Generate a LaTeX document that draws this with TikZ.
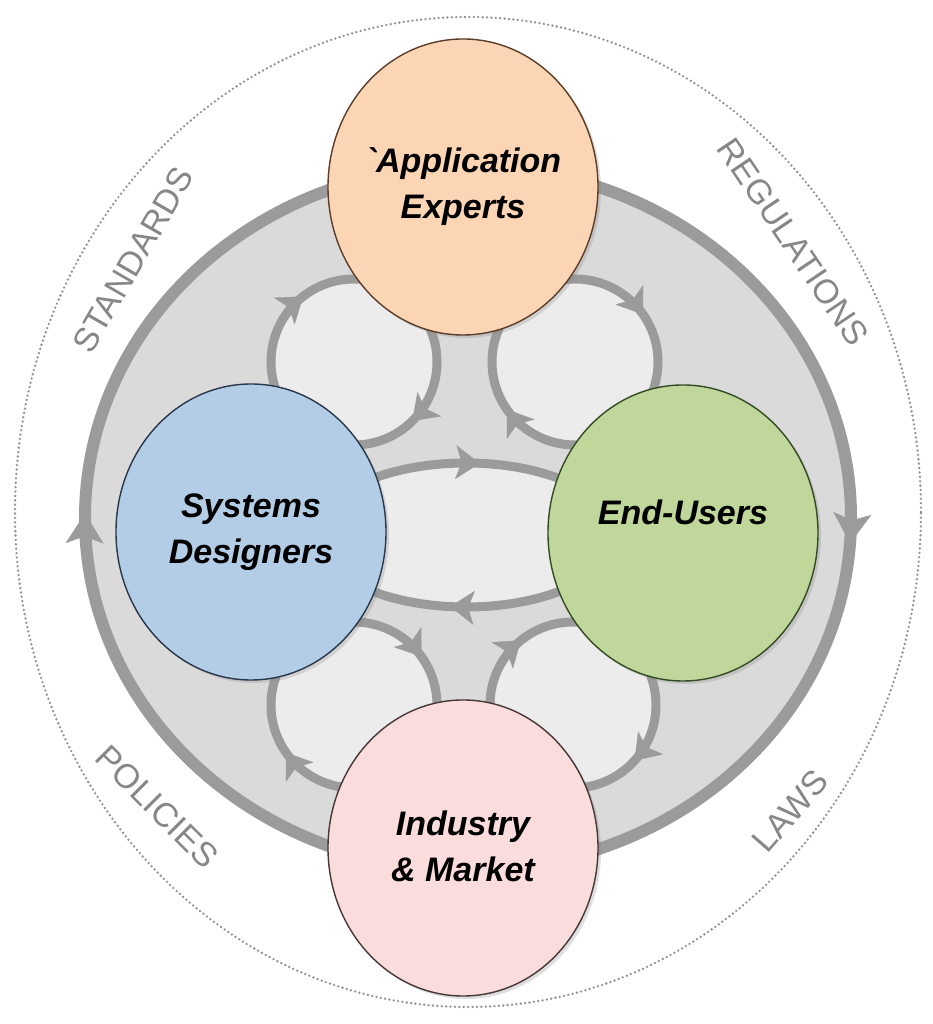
\documentclass[tikz,border=0pt]{standalone}
\usepackage{fontspec}
\setmainfont{Liberation Sans}
\newfontfamily\actorfont{Liberation Sans}
\usetikzlibrary{shapes.geometric,arrows.meta,decorations.markings,shadows}
\definecolor{linegray}{RGB}{155,155,155}
\definecolor{diskgray}{RGB}{218,218,218}
\definecolor{lobegray}{RGB}{236,236,236}
\definecolor{dotgray}{RGB}{145,145,145}
\definecolor{txtgray}{RGB}{135,135,135}
\definecolor{appfill}{RGB}{252,213,180}
\definecolor{appline}{RGB}{90,60,40}
\definecolor{sysfill}{RGB}{180,205,230}
\definecolor{sysline}{RGB}{40,55,75}
\definecolor{eufill}{RGB}{192,215,155}
\definecolor{euline}{RGB}{50,75,35}
\definecolor{indfill}{RGB}{250,220,221}
\definecolor{indline}{RGB}{70,55,55}
\begin{document}
\begin{tikzpicture}[x=1pt,y=1pt,
  flow/.style={color=linegray, line width=9pt},
  ringline/.style={color=linegray, line width=12pt},
  lobetips/.style 2 args={postaction={decorate},
    decoration={markings,
      mark=at position #1 with {\arrow{Stealth[length=24pt,width=34pt,inset=6pt,line width=0.4pt]}},
      mark=at position #2 with {\arrow{Stealth[length=24pt,width=34pt,inset=6pt,line width=0.4pt]}}}},
  ringtips/.style 2 args={postaction={decorate},
    decoration={markings,
      mark=at position #1 with {\arrow{Stealth[length=30pt,width=38pt,inset=7pt,line width=0.4pt]}},
      mark=at position #2 with {\arrow{Stealth[length=30pt,width=38pt,inset=7pt,line width=0.4pt]}}}},
  actor/.style={ellipse, minimum width=270pt, minimum height=296pt, inner sep=0pt,
    line width=1.4pt, drop shadow={shadow xshift=3pt, shadow yshift=-3pt, opacity=0.25}},
  actortext/.style={font=\actorfont\fontsize{34}{46}\selectfont\bfseries\itshape,
    align=center, text=black, inner sep=0pt},
  outer/.style={font=\fontsize{34}{34}\selectfont, text=txtgray, inner sep=0pt},
]
\useasboundingbox (0,0) rectangle (933,1024);

% outer dotted boundary
\draw[dotgray, line width=2.6pt, dash pattern=on 0pt off 4.4pt, line cap=round]
  (468,512) ellipse [x radius=453, y radius=495];

% gray disk
\fill[diskgray] (468,506) ellipse [x radius=383, y radius=352];

% lighter lobes
\fill[lobegray] (354,662) circle[radius=83] (575,662) circle[radius=83]
  (354,319) circle[radius=83] (573,319) circle[radius=83]
  (466,489) ellipse[x radius=150, y radius=72];

% lobe loops (clockwise)
\draw[flow, lobetips={0.376}{0.895}] (354,745) arc[start angle=90, end angle=-270, radius=83];
\draw[flow, lobetips={0.153}{0.653}] (575,745) arc[start angle=90, end angle=-270, radius=83];
\draw[flow, lobetips={0.151}{0.653}] (354,402) arc[start angle=90, end angle=-270, radius=83];
\draw[flow, lobetips={0.367}{0.892}] (573,402) arc[start angle=90, end angle=-270, radius=83];
\draw[flow, lobetips={0.269}{0.772}] (316,489) arc[start angle=180, end angle=-180, x radius=150, y radius=72];

% outer ring
\draw[ringline, ringtips={0.261}{0.752}] (468,858) arc[start angle=90, end angle=-270, x radius=383, y radius=352];

% actors
\node[actor, fill=appfill, draw=appline] (app) at (463,837) {};
\node[actor, fill=sysfill, draw=sysline] (sys) at (251,492) {};
\node[actor, fill=eufill, draw=euline] (eu) at (683,491) {};
\node[actor, fill=indfill, draw=indline] (ind) at (463,176) {};

\node[actortext] (apptext) at (app.center) {`Application\\Experts};
\node[actortext] (systext) at (sys.center) {Systems\\Designers};
\node[actortext] (eutext) at ([yshift=21pt]eu.center) {End-Users};
\node[actortext] (indtext) at ([yshift=2pt]ind.center) {Industry\\\& Market};

% surrounding frame words
\node[outer, rotate=60] (std) at (133,764) {STANDARDS};
\node[outer, rotate=-56] (reg) at (793,782) {REGULATIONS};
\node[outer, rotate=-45] (pol) at (157,217) {POLICIES};
\node[outer, rotate=49] (laws) at (790,213) {LAWS};
\end{tikzpicture}
\end{document}
